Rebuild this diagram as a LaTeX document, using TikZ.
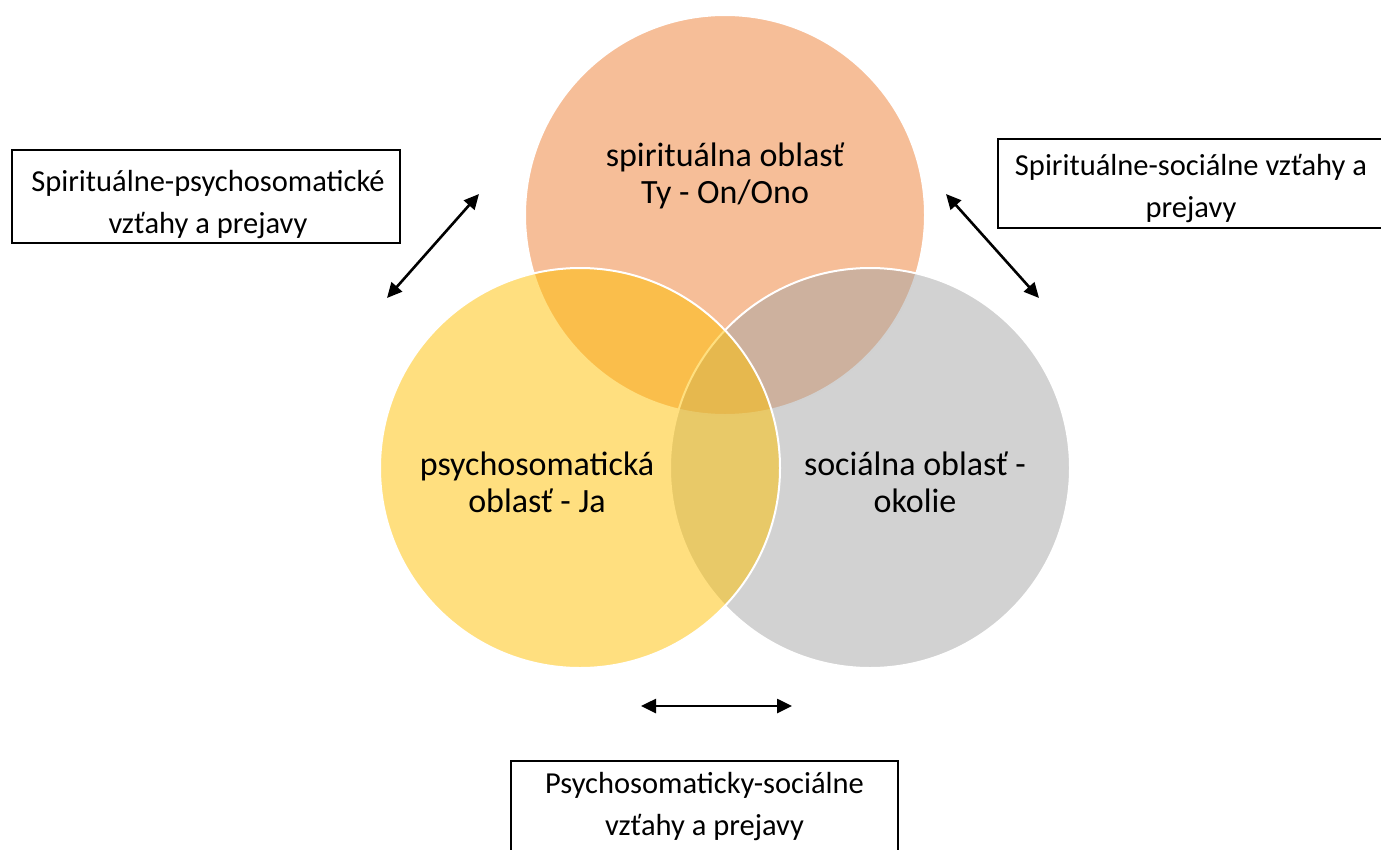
\documentclass[tikz,border=0pt]{standalone}
\usepackage{fontspec}
\setmainfont{Carlito}
\usetikzlibrary{arrows.meta}
\definecolor{orangeA}{HTML}{ED7D31}
\definecolor{yellowA}{HTML}{FFC000}
\definecolor{grayA}{HTML}{A5A5A5}
\tikzset{
  venn/.style={circle, draw=white, line width=2bp, fill opacity=0.5, text opacity=1, minimum size=400bp, inner sep=0pt},
  vtext/.style={align=center, font=\fontsize{34bp}{37bp}\selectfont, text=black},
  labelbox/.style={draw=black, line width=1.5bp, fill=white, inner sep=0pt},
  boxtext/.style={align=center, inner sep=0pt, font=\fontsize{30.5bp}{42bp}\selectfont},
  dbl/.style={{Triangle[length=15bp,width=14bp]}-{Triangle[length=15bp,width=14bp]}, line width=2.6bp, black}
}
\begin{document}
\begin{tikzpicture}[x=1bp,y=-1bp]
\useasboundingbox (0,0) rectangle (1381,849);
\begin{scope}
\clip (0,0) rectangle (1381,849);
% circles
\node[venn, fill=orangeA] (top) at (725,215) {};
\node[venn, fill=grayA] (right) at (870,468) {};
\node[venn, fill=yellowA] (left) at (580,468) {};
% circle texts
\node[vtext] (ttop) at (725,176) {spirituálna oblasť\\Ty - On/Ono};
\node[vtext] (tleft) at (537,482) {psychosomatická\\oblasť - Ja};
\node[vtext] (tright) at (915,482) {sociálna oblasť -\\okolie};
% boxes
\node[labelbox, minimum width=388bp, minimum height=93bp] (bl) at (206,196.5) {};
\node[boxtext] (blt) at (208,205) {Spirituálne-psychosomatické\\vzťahy a prejavy};
\node[labelbox, minimum width=390bp, minimum height=89bp] (br) at (1193,183.5) {};
\node[boxtext] (brt) at (1191,189) {Spirituálne-sociálne vzťahy a\\prejavy};
\node[labelbox, minimum width=387bp, minimum height=110bp] (bb) at (704.5,816) {};
\node[boxtext] (bbt) at (704.5,806.5) {Psychosomaticky-sociálne\\vzťahy a prejavy};
% arrow endpoints
\coordinate (a1) at (387,298);
\coordinate (a2) at (479,194);
\coordinate (b1) at (946,194);
\coordinate (b2) at (1039,298);
\coordinate (c1) at (641,706);
\coordinate (c2) at (792,706);
\draw[dbl] (a1) -- (a2);
\draw[dbl] (b1) -- (b2);
\draw[dbl] (c1) -- (c2);
\end{scope}
\end{tikzpicture}
\end{document}
